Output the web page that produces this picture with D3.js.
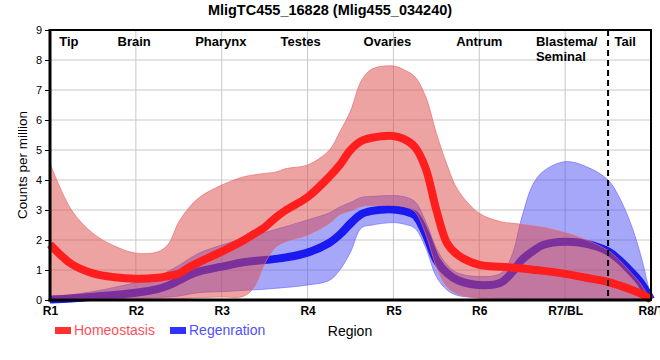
<!DOCTYPE html>
<html>
<head>
<meta charset="utf-8">
<script src="https://cdn.jsdelivr.net/npm/d3@7"></script>
<style>
  html, body { margin: 0; padding: 0; background: #fff; }
  svg { display: block; }
</style>
</head>
<body>
<svg id="chart" width="660" height="360"></svg>
<script>
// ---------- data ----------
const categories = ["R1", "R2", "R3", "R4", "R5", "R6", "R7/BL", "R8/T"];
const regionNames = ["Tip", "Brain", "Pharynx", "Testes", "Ovaries", "Antrum", "Blastema/\nSeminal", "Tail"];
const yTicks = [0, 1, 2, 3, 4, 5, 6, 7, 8, 9];
// sample positions along the region axis (R1 = 0 ... R8 = 7)
const positions = [0, 0.25, 0.5, 0.75, 1, 1.25, 1.375, 1.5, 1.625, 1.75, 2, 2.25, 2.375, 2.5, 2.625, 2.75,
                   3, 3.25, 3.375, 3.5, 3.625, 3.75, 4, 4.125, 4.25, 4.375, 4.5, 4.625, 4.75, 5,
                   5.25, 5.375, 5.5, 5.625, 5.75, 6, 6.25, 6.5, 6.625, 6.75, 6.875, 7];
// Homeostasis
const homeoMean = [1.85, 1.2, 0.89, 0.76, 0.71, 0.74, 0.8, 0.88, 1.1, 1.28, 1.61, 1.98, 2.2, 2.42, 2.74, 3.0,
                   3.43, 4.1, 4.5, 5.0, 5.3, 5.41, 5.47, 5.36, 5.1, 4.39, 3.0, 1.89, 1.5, 1.17,
                   1.11, 1.08, 1.05, 1.01, 0.97, 0.87, 0.74, 0.6, 0.49, 0.37, 0.22, 0.02];
const homeoHigh = [4.55, 3.0, 2.22, 1.8, 1.56, 1.6, 1.85, 2.6, 3.1, 3.44, 3.83, 4.1, 4.17, 4.22, 4.26, 4.38,
                   4.5, 4.98, 5.6, 6.3, 7.3, 7.7, 7.8, 7.67, 7.44, 6.78, 5.56, 4.5, 3.67, 2.89,
                   2.61, 2.56, 2.52, 2.47, 2.42, 2.24, 2.0, 1.65, 1.35, 0.97, 0.56, 0.0];
const homeoLow = [0.03, 0.03, 0.03, 0.03, 0.03, 0.03, 0.03, 0.04, 0.06, 0.08, 0.1, 0.12, 0.42, 1.2, 1.75, 1.95,
                  2.17, 2.55, 2.85, 2.97, 3.12, 3.15, 3.15, 3.11, 2.94, 2.2, 1.11, 0.44, 0.2, 0.06,
                  0.04, 0.03, 0.03, 0.03, 0.03, 0.03, 0.03, 0.03, 0.03, 0.02, 0.02, 0.0];
// Regeneration
const regenMean = [0.02, 0.05, 0.11, 0.17, 0.24, 0.36, 0.48, 0.65, 0.83, 0.96, 1.11, 1.26, 1.3, 1.33, 1.37, 1.42,
                   1.58, 1.9, 2.18, 2.55, 2.86, 2.97, 3.02, 2.96, 2.83, 2.2, 1.33, 0.89, 0.66, 0.5,
                   0.58, 0.9, 1.35, 1.63, 1.84, 1.94, 1.87, 1.62, 1.35, 1.0, 0.6, 0.02];
const regenHigh = [0.11, 0.18, 0.28, 0.42, 0.58, 0.78, 0.95, 1.15, 1.38, 1.58, 1.83, 2.05, 2.15, 2.25, 2.35, 2.45,
                   2.67, 2.9, 3.1, 3.25, 3.42, 3.45, 3.48, 3.44, 3.28, 2.62, 1.72, 1.17, 0.9, 0.78,
                   0.89, 1.45, 2.8, 3.85, 4.3, 4.61, 4.44, 4.0, 3.45, 2.65, 1.55, 0.05];
const regenLow = [-0.07, -0.03, 0.0, 0.02, 0.04, 0.08, 0.1, 0.13, 0.2, 0.25, 0.28, 0.32, 0.34, 0.36, 0.39, 0.42,
                  0.5, 0.65, 1.0, 1.6, 2.4, 2.5, 2.58, 2.53, 2.39, 1.75, 0.78, 0.33, 0.15, 0.08,
                  0.06, 0.06, 0.05, 0.05, 0.05, 0.05, 0.05, 0.05, 0.05, 0.04, 0.03, 0.02];
const boundaryAt = 6.5; // dashed separator between R7/BL and R8/T
const seriesNames = ["Homeostasis", "Regenration"];

// ---------- layout ----------
const svg = d3.select("#chart");
const margin = { left: 50, right: 9, top: 30, bottom: 60 };
const W = 660, H = 360;
const x = d3.scaleLinear().domain([0, categories.length - 1]).range([margin.left, W - margin.right]);
const y = d3.scaleLinear().domain([0, 9]).range([H - margin.bottom, margin.top]);

const narrow = "'Liberation Sans Narrow', 'Arial Narrow', 'Liberation Sans', Arial, sans-serif";
const sans = "'Liberation Sans', Arial, sans-serif";

// title
svg.append("text")
  .attr("x", 330).attr("y", 15)
  .attr("text-anchor", "middle")
  .attr("font-family", narrow).attr("font-weight", "bold").attr("font-size", 14.5)
  .text("MligTC455_16828 (Mlig455_034240)");

// grid
const grid = svg.append("g");
grid.selectAll("line.h").data(yTicks.slice(1, -1)).join("line")
  .attr("x1", x(0)).attr("x2", x(7))
  .attr("y1", d => y(d)).attr("y2", d => y(d))
  .attr("stroke", "#c8c8c8").attr("stroke-width", 1);
grid.selectAll("line.v").data(d3.range(1, categories.length - 1)).join("line")
  .attr("x1", d => x(d)).attr("x2", d => x(d))
  .attr("y1", y(0)).attr("y2", y(9))
  .attr("stroke", "#c8c8c8").attr("stroke-width", 1);

// series
const curve = d3.curveCatmullRom.alpha(0.5);
const pts = (lo, hi) => positions.map((p, i) => ({ p, lo: lo[i], hi: hi[i] }));
const area = d3.area().x(d => x(d.p)).y0(d => y(d.lo)).y1(d => y(d.hi)).curve(curve);
const line = d3.line().x(d => x(d.p)).y(d => y(d.hi)).curve(curve);

const regenBand = pts(regenLow, regenHigh);
const homeoBand = pts(homeoLow, homeoHigh);
const regenLine = pts(regenMean, regenMean);
const homeoLine = pts(homeoMean, homeoMean);

svg.append("path").datum(regenBand).attr("d", area)
  .attr("fill", "rgb(80,80,245)").attr("fill-opacity", 0.5)
  .attr("stroke", "rgb(110,110,250)").attr("stroke-width", 1).attr("stroke-opacity", 0.7);
svg.append("path").datum(regenLine).attr("d", line)
  .attr("fill", "none").attr("stroke", "rgb(25,25,240)").attr("stroke-width", 8);
svg.append("path").datum(homeoBand).attr("d", area)
  .attr("fill", "rgb(222,72,72)").attr("fill-opacity", 0.5)
  .attr("stroke", "rgb(230,110,110)").attr("stroke-width", 1).attr("stroke-opacity", 0.7);
svg.append("path").datum(homeoLine).attr("d", line)
  .attr("fill", "none").attr("stroke", "rgb(255,30,30)").attr("stroke-width", 8);

// dashed separator
svg.append("line")
  .attr("x1", x(boundaryAt)).attr("x2", x(boundaryAt))
  .attr("y1", y(9)).attr("y2", y(0))
  .attr("stroke", "#000").attr("stroke-width", 2).attr("stroke-dasharray", "6,4");

// frame
svg.append("rect")
  .attr("x", x(0)).attr("y", y(9))
  .attr("width", x(7) - x(0)).attr("height", y(0) - y(9))
  .attr("fill", "none").attr("stroke", "#000").attr("stroke-width", 2);
svg.append("line").attr("x1", x(0)).attr("x2", x(0)).attr("y1", y(9) - 1).attr("y2", y(0) + 1.5)
  .attr("stroke", "#000").attr("stroke-width", 3);
svg.append("line").attr("x1", x(0) - 1.5).attr("x2", x(7)).attr("y1", y(0)).attr("y2", y(0))
  .attr("stroke", "#000").attr("stroke-width", 3);

// y axis
const yAxis = svg.append("g").attr("transform", `translate(${x(0) - 1},0)`)
  .call(d3.axisLeft(y).tickValues(yTicks).tickFormat(d3.format("d")).tickSize(4).tickPadding(3));
yAxis.select(".domain").remove();
yAxis.selectAll("text").attr("font-family", sans).attr("font-size", 11).attr("fill", "#000");
yAxis.selectAll("line").attr("stroke", "#000");

// x axis
const xAxis = svg.append("g").attr("transform", `translate(0,${y(0) + 1})`)
  .call(d3.axisBottom(x).tickValues(d3.range(categories.length)).tickFormat(i => categories[i]).tickSize(0).tickPadding(5));
xAxis.select(".domain").remove();
xAxis.selectAll("text").attr("font-family", narrow).attr("font-weight", "bold").attr("font-size", 12).attr("fill", "#000");

// region names inside plot
const nameAnchors = [0.22, 0.98, 1.99, 2.92, 3.93, 5.0, 5.66, 6.7];
const names = svg.append("g").attr("font-family", sans).attr("font-weight", "bold").attr("font-size", 13);
regionNames.forEach((nm, i) => {
  const lines = nm.split("\n");
  const t = names.append("text")
    .attr("x", x(nameAnchors[i]))
    .attr("y", 46)
    .attr("text-anchor", lines.length > 1 ? "start" : "middle");
  lines.forEach((ln, j) => {
    t.append("tspan").attr("x", x(nameAnchors[i])).attr("dy", j === 0 ? 0 : 15).text(ln);
  });
});

// y title
svg.append("text")
  .attr("transform", `translate(27,${(y(0) + y(9)) / 2}) rotate(-90)`)
  .attr("text-anchor", "middle")
  .attr("font-family", sans).attr("font-size", 13.5)
  .text("Counts per million");

// x title
svg.append("text")
  .attr("x", 350).attr("y", 336)
  .attr("text-anchor", "middle")
  .attr("font-family", narrow).attr("font-size", 14)
  .text("Region");

// legend
const legendColors = [["rgb(255,50,50)", "rgb(255,80,90)"], ["rgb(50,50,255)", "rgb(80,80,255)"]];
const legendX = [55, 170];
seriesNames.forEach((nm, i) => {
  svg.append("rect").attr("x", legendX[i]).attr("y", 327).attr("width", 16).attr("height", 7)
    .attr("fill", legendColors[i][0]);
  svg.append("text").attr("x", legendX[i] + 19).attr("y", 335)
    .attr("font-family", narrow).attr("font-size", 14).attr("fill", legendColors[i][1])
    .text(nm);
});
</script>
</body>
</html>
